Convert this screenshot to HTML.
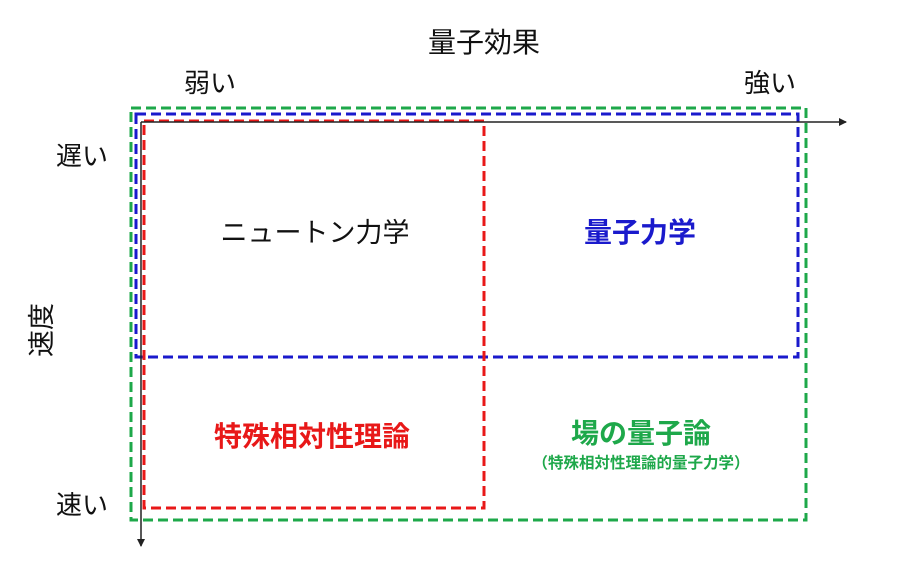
<!DOCTYPE html>
<html><head><meta charset="utf-8"><style>
html,body{margin:0;padding:0;background:#fff;}
svg text{font-family:"Liberation Sans","Noto Sans CJK JP",sans-serif;}
</style></head><body>
<svg width="900" height="579" viewBox="0 0 900 579" xmlns="http://www.w3.org/2000/svg">
<defs>
<marker id="ah" markerWidth="8" markerHeight="8" refX="7" refY="4" orient="auto" markerUnits="userSpaceOnUse">
<path d="M0,0 L8,4 L0,8 z" fill="#222"/></marker>
</defs>
<rect x="131" y="108" width="675" height="412" fill="none" stroke="#1ea84a" stroke-width="3" stroke-dasharray="10,5"/>
<rect x="136" y="114" width="662" height="243" fill="none" stroke="#1a1acc" stroke-width="3" stroke-dasharray="10,5"/>
<rect x="144" y="121" width="340" height="387" fill="none" stroke="#e81818" stroke-width="3" stroke-dasharray="10,5"/>
<line x1="141" y1="122" x2="846" y2="122" stroke="#222" stroke-width="1.5" marker-end="url(#ah)"/>
<line x1="141" y1="122" x2="141" y2="546" stroke="#222" stroke-width="1.5" marker-end="url(#ah)"/>
<text x="484" y="52" font-size="28" text-anchor="middle" fill="#111">量子効果</text>
<text x="210" y="92" font-size="26" text-anchor="middle" fill="#111">弱い</text>
<text x="770" y="92" font-size="26" text-anchor="middle" fill="#111">強い</text>
<text x="82" y="165" font-size="26" text-anchor="middle" fill="#111">遅い</text>
<text x="82" y="514" font-size="26" text-anchor="middle" fill="#111">速い</text>
<text x="0" y="0" font-size="27" text-anchor="middle" fill="#111" transform="translate(51,330) rotate(-90)">速度</text>
<text x="315" y="242" font-size="27" text-anchor="middle" fill="#111">ニュートン力学</text>
<text x="640" y="242" font-size="28" font-weight="bold" text-anchor="middle" fill="#1a1acc">量子力学</text>
<text x="312" y="446" font-size="28" font-weight="bold" text-anchor="middle" fill="#e81818">特殊相対性理論</text>
<text x="641" y="443" font-size="28" font-weight="bold" text-anchor="middle" fill="#1ea84a">場の量子論</text>
<text x="641" y="468" font-size="15.5" font-weight="bold" text-anchor="middle" fill="#1ea84a">（特殊相対性理論的量子力学）</text>
</svg>
</body></html>
